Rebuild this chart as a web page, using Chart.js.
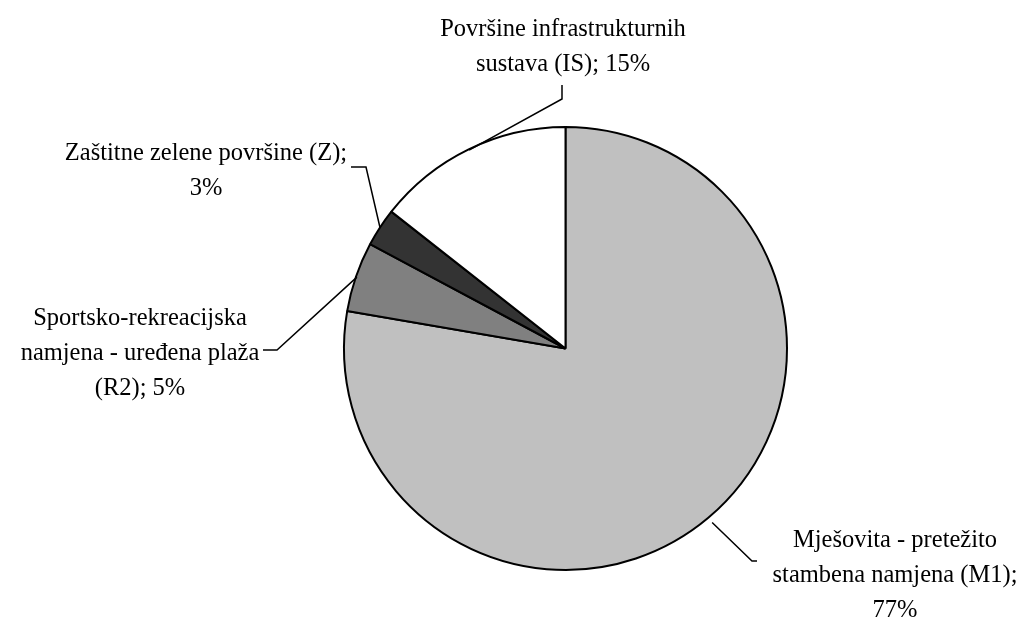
<!DOCTYPE html>
<html>
<head>
<meta charset="utf-8">
<script src="https://cdn.jsdelivr.net/npm/chart.js@4"></script>
<style>
  body { margin: 0; background: #fff; }
  #myChart { display: block; }
</style>
</head>
<body>
<canvas id="myChart" width="1027" height="619"></canvas>
<script>
// podaci
const kategorije = ['M1', 'R2', 'Z', 'IS']
const udjeli = [77.7, 5.1, 2.8, 14.4]
const oznake = [
    ['Mješovita - pretežito', 'stambena namjena (M1);', '77%'],
    ['Sportsko-rekreacijska', 'namjena - uređena plaža', '(R2); 5%'],
    ['Zaštitne zelene površine (Z);', '3%'],
    ['Površine infrastrukturnih', 'sustava (IS); 15%']
]
const boje = ['#c0c0c0', '#808080', '#333333', '#ffffff']

// raspored natpisa: x centar teksta, y prve linije, lakat i kraj vodilice
const raspored = [
    { x: 895, y: 547, lakat: [752, 561], kraj: [757, 561], r: 6 },
    { x: 140, y: 325, lakat: [277, 350], kraj: [263, 350], r: -1 },
    { x: 206, y: 160, lakat: [366, 167], kraj: [351, 167], r: 0 },
    { x: 563, y: 36, lakat: [562, 99], kraj: [562, 85], r: -1 }
]

const natpisi = {
    id: 'natpisi',
    afterDatasetsDraw(chart) {
        const ctx = chart.ctx
        const meta = chart.getDatasetMeta(0)
        ctx.save()
        ctx.strokeStyle = '#000'
        ctx.lineWidth = 1.5
        ctx.fillStyle = '#000'
        ctx.font = '24.5px "Liberation Serif", "Times New Roman", serif'
        ctx.textAlign = 'center'
        ctx.textBaseline = 'alphabetic'
        meta.data.forEach((arc, i) => {
            const p = arc.getProps(['x', 'y', 'startAngle', 'endAngle', 'outerRadius'], true)
            const sred = (p.startAngle + p.endAngle) / 2
            const rr = p.outerRadius + raspored[i].r
            const ex = p.x + Math.cos(sred) * rr
            const ey = p.y + Math.sin(sred) * rr
            ctx.beginPath()
            ctx.moveTo(ex, ey)
            ctx.lineTo(raspored[i].lakat[0], raspored[i].lakat[1])
            ctx.lineTo(raspored[i].kraj[0], raspored[i].kraj[1])
            ctx.stroke()
            oznake[i].forEach((linija, j) => {
                ctx.fillText(linija, raspored[i].x, raspored[i].y + j * 35)
            })
        })
        ctx.restore()
    }
}

const config = {
    type: 'pie',
    data: {
        labels: kategorije,
        datasets: [{
            data: udjeli,
            backgroundColor: boje,
            borderColor: '#000',
            borderWidth: 2,
            radius: 221.5
        }]
    },
    options: {
        responsive: false,
        animation: false,
        layout: { padding: { left: 104, right: 0, top: 78, bottom: 0 } },
        plugins: {
            legend: { display: false },
            tooltip: { enabled: false }
        }
    },
    plugins: [natpisi]
}

new Chart(document.getElementById('myChart'), config)
</script>
</body>
</html>
